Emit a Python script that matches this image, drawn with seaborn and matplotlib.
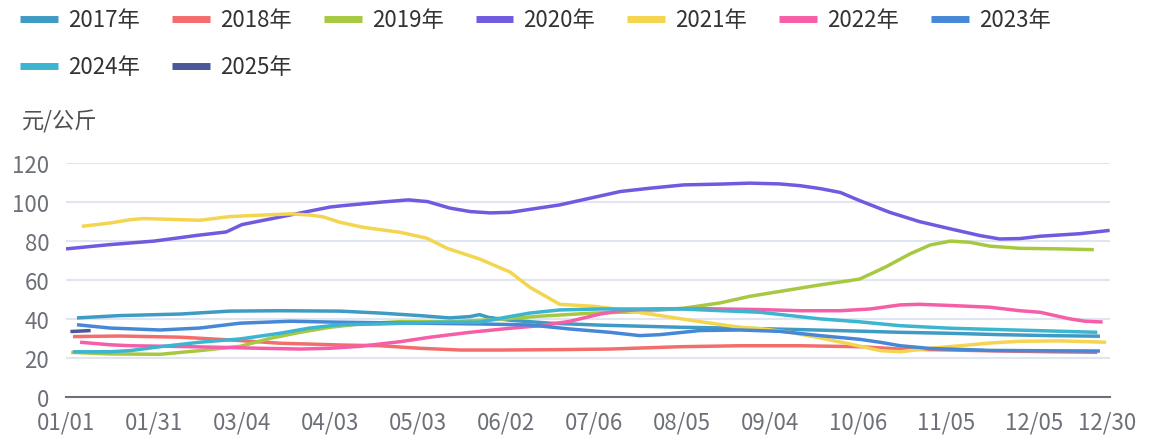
import numpy as np
import pandas as pd
import matplotlib
matplotlib.use("Agg")
import matplotlib.pyplot as plt
import seaborn as sns
from matplotlib.lines import Line2D

# ---------------- data ----------------
series_names = ["2017年", "2018年", "2019年", "2020年", "2021年", "2022年", "2023年", "2024年", "2025年"]
series_colors = ["#3f9bc4", "#f46d6d", "#a6c941", "#6f5ae0", "#f4d54f", "#f65ea8", "#4688d6", "#3bb5d0", "#4b5796"]

tick_labels = ["01/01", "01/31", "03/04", "04/03", "05/03", "06/02", "07/06",
               "08/05", "09/04", "10/06", "11/05", "12/05", "12/30"]
tick_positions = [0, 1, 2, 3, 4, 5, 6, 7, 8, 9, 10, 11, 11.83]
x_end = 11.864

y_ticks = [0, 20, 40, 60, 80, 100, 120]
y_unit = "元/公斤"

# x values are in units of the category-label interval
x_2017 = [0.125, 0.61, 1.30, 1.86, 2.43, 3.11, 3.57, 4.02, 4.36, 4.59, 4.70, 4.80, 5.05, 5.50, 6.07, 6.98, 7.66, 8.34, 9.02, 9.48, 10.05, 10.61, 11.18, 11.75]
y_2017 = [40.5, 41.7, 42.5, 44.0, 44.2, 44.0, 43.0, 41.7, 40.5, 41.2, 42.2, 40.8, 39.3, 37.8, 36.8, 35.7, 35.2, 34.5, 33.7, 33.1, 32.6, 31.9, 31.4, 31.1]

x_2018 = [0.08, 0.61, 1.30, 1.86, 2.43, 3.11, 3.57, 4.02, 4.48, 4.93, 5.61, 6.18, 6.98, 7.66, 8.34, 9.02, 9.48, 10.05, 10.61, 11.18, 11.72]
y_2018 = [30.9, 31.2, 30.6, 29.2, 27.5, 26.6, 26.2, 24.9, 24.0, 24.0, 24.2, 24.5, 25.7, 26.2, 26.2, 25.7, 24.5, 24.0, 23.5, 23.1, 22.8]

x_2019 = [0.06, 0.5, 1.07, 1.52, 1.98, 2.32, 2.66, 3.0, 3.34, 3.80, 4.36, 4.93, 5.39, 5.99, 6.52, 7.02, 7.43, 7.77, 8.23, 8.57, 8.91, 9.02, 9.31, 9.59, 9.82, 10.05, 10.27, 10.5, 10.84, 11.30, 11.68]
y_2019 = [22.8, 22.0, 21.8, 23.7, 25.9, 30.0, 33.1, 35.7, 37.4, 38.6, 38.5, 39.8, 41.4, 43.0, 43.7, 45.5, 48.2, 51.6, 55.0, 57.5, 59.7, 60.5, 66.6, 73.4, 78.0, 80.0, 79.4, 77.4, 76.3, 76.0, 75.6]

x_2020 = [0, 0.5, 1.0, 1.5, 1.82, 2.0, 2.5, 3.0, 3.14, 3.57, 3.89, 4.11, 4.36, 4.59, 4.82, 5.05, 5.27, 5.61, 5.95, 6.30, 6.64, 7.02, 7.43, 7.77, 8.11, 8.34, 8.57, 8.80, 9.02, 9.36, 9.70, 10.05, 10.39, 10.61, 10.84, 11.07, 11.52, 11.86]
y_2020 = [76.0, 78.2, 80.0, 83.0, 84.7, 88.5, 93.0, 97.5, 98.2, 100.0, 101.2, 100.3, 97.0, 95.2, 94.5, 94.8, 96.3, 98.6, 102.0, 105.5, 107.2, 108.9, 109.3, 109.8, 109.4, 108.5, 107.0, 105.0, 100.8, 94.8, 90.0, 86.3, 82.8, 81.1, 81.3, 82.5, 83.8, 85.5]

x_2021 = [0.18, 0.5, 0.73, 0.875, 1.18, 1.52, 1.86, 2.09, 2.55, 2.77, 2.92, 3.11, 3.375, 3.80, 4.10, 4.33, 4.70, 5.05, 5.27, 5.61, 5.99, 6.30, 6.75, 7.20, 7.66, 7.89, 8.23, 8.57, 8.91, 9.25, 9.48, 9.82, 10.16, 10.5, 10.84, 11.30, 11.82]
y_2021 = [87.6, 89.3, 91.0, 91.6, 91.2, 90.7, 92.6, 93.1, 94.0, 93.4, 92.5, 89.7, 87.1, 84.5, 81.5, 76.3, 70.8, 64.0, 56.3, 47.5, 46.5, 44.8, 41.7, 38.6, 35.7, 35.0, 33.1, 30.2, 27.1, 23.7, 23.1, 24.9, 26.2, 27.6, 28.5, 28.7, 28.0]

x_2022 = [0.16, 0.5, 0.73, 1.18, 1.75, 2.20, 2.66, 3.0, 3.34, 3.80, 4.14, 4.59, 5.05, 5.39, 5.73, 6.07, 6.30, 6.75, 7.20, 7.89, 8.34, 8.80, 9.14, 9.48, 9.70, 10.05, 10.5, 10.84, 11.07, 11.41, 11.58, 11.78]
y_2022 = [28.0, 26.7, 26.2, 25.9, 25.4, 24.9, 24.5, 24.9, 25.9, 28.3, 30.6, 33.1, 35.2, 36.5, 38.8, 42.5, 44.2, 45.2, 45.3, 44.8, 44.2, 44.2, 45.1, 47.2, 47.5, 46.9, 46.0, 44.2, 43.4, 40.0, 38.8, 38.4]

x_2023 = [0.125, 0.5, 1.07, 1.52, 1.98, 2.55, 3.11, 3.80, 4.70, 5.27, 5.73, 6.18, 6.52, 6.75, 7.20, 7.66, 8.11, 8.57, 9.02, 9.25, 9.48, 9.82, 10.5, 11.18, 11.75]
y_2023 = [37.0, 35.3, 34.3, 35.3, 37.8, 38.8, 38.3, 37.9, 37.4, 36.9, 34.8, 33.1, 31.4, 31.9, 34.0, 34.3, 33.6, 31.4, 29.5, 28.0, 26.2, 24.8, 23.8, 23.6, 23.5]

x_2024 = [0.08, 0.5, 0.73, 1.07, 1.52, 1.98, 2.43, 2.77, 3.11, 3.57, 4.25, 4.70, 4.93, 5.27, 5.61, 6.07, 6.98, 7.89, 8.57, 9.02, 9.48, 10.05, 10.61, 11.18, 11.72]
y_2024 = [23.1, 23.1, 23.7, 25.7, 28.0, 29.7, 32.6, 35.3, 37.0, 37.4, 38.3, 38.3, 40.3, 43.0, 44.6, 45.1, 45.1, 43.4, 40.0, 38.5, 36.5, 35.2, 34.5, 33.8, 33.1]

x_2025 = [0.05, 0.28]
y_2025 = [33.5, 34.0]

xs = [x_2017, x_2018, x_2019, x_2020, x_2021, x_2022, x_2023, x_2024, x_2025]
ys = [y_2017, y_2018, y_2019, y_2020, y_2021, y_2022, y_2023, y_2024, y_2025]

frames = []
for name, xv, yv in zip(series_names, xs, ys):
    frames.append(pd.DataFrame({"x": xv, "价格": yv, "年份": name}))
df = pd.concat(frames, ignore_index=True)

# ---------------- style ----------------
sns.set_theme(style="white")
plt.rcParams["font.family"] = ["Noto Sans CJK SC", "DejaVu Sans"]

W, H = 1150, 439
fig = plt.figure(figsize=(W / 100, H / 100), dpi=100)
left, right, bottom, top = 66, 1110, 397.7, 164.3
ax = fig.add_axes([left / W, 1 - bottom / H, (right - left) / W, (bottom - top) / H])

palette = dict(zip(series_names, series_colors))
sns.lineplot(data=df, x="x", y="价格", hue="年份", palette=palette, hue_order=series_names,
             estimator=None, sort=True, linewidth=2.5, legend=False, ax=ax,
             solid_capstyle="butt", zorder=3)

ax.set_xlim(0, x_end)
ax.set_ylim(0, 120)
ax.set_xlabel("")
ax.set_ylabel("")

for v in y_ticks[1:]:
    ax.axhline(v, color="#e0e6f1", lw=1.5, zorder=1)

ax.set_yticks(y_ticks)
ax.set_yticklabels([str(v) for v in y_ticks])
ax.set_xticks(tick_positions)
ax.set_xticklabels(tick_labels)
ax.set_xticks([x_end], minor=True)

ax.tick_params(axis="y", length=0, pad=12, labelsize=16, labelcolor="#6e7079")
ax.tick_params(axis="x", which="both", length=5, width=1.5, color="#6e7079", direction="out",
               pad=5, labelsize=16, labelcolor="#6e7079")
for s in ["left", "top", "right"]:
    ax.spines[s].set_visible(False)
ax.spines["bottom"].set_color("#6e7079")
ax.spines["bottom"].set_linewidth(1.5)
ax.spines["bottom"].set_zorder(4)

fig.text(22 / W, 1 - 122 / H, y_unit, fontsize=16, color="#505050", va="center", ha="left")

# legend: row-major order (7 in first row, 2 in second) using matplotlib's column filling
handles = [Line2D([0], [0], color=c, lw=5, solid_capstyle="butt") for c in series_colors]
order = [0, 7, 1, 8, 2, 3, 4, 5, 6]
fig.legend([handles[i] for i in order], [series_names[i] for i in order],
           loc="upper left", bbox_to_anchor=(7 / W, 1 + 4 / H),
           ncol=7, frameon=False, fontsize=16, handlelength=1.7, handletextpad=0.45,
           columnspacing=1.45, labelspacing=1.08, labelcolor="#333333", borderaxespad=0.2)

fig.savefig("out.png", dpi=100)
